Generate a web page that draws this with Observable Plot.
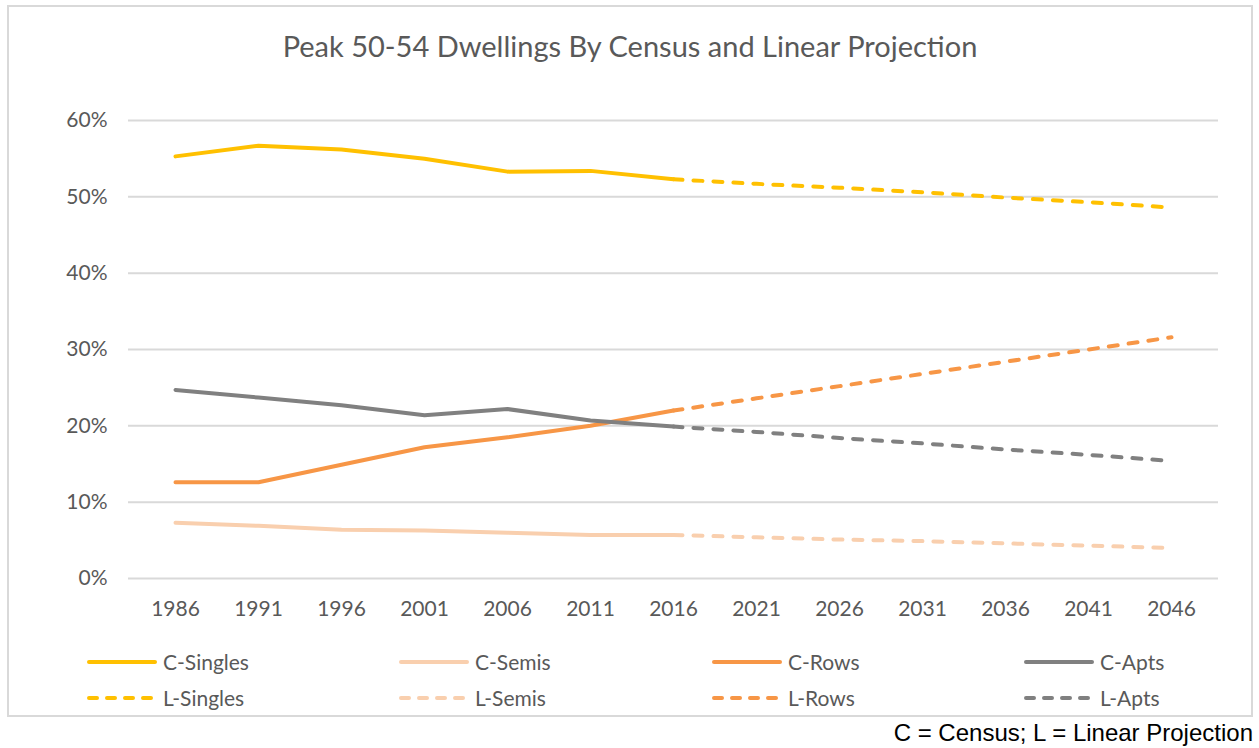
<!DOCTYPE html>
<html>
<head>
<meta charset="utf-8">
<script src="https://cdn.jsdelivr.net/npm/d3@7"></script>
<script src="https://cdn.jsdelivr.net/npm/@observablehq/plot@0.6"></script>
<style>
  body { margin: 0; background: #fff; }
  #wrap { position: relative; width: 1259px; height: 748px; overflow: hidden; font-family: Lato, sans-serif; }
  #frame { position: absolute; left: 7px; top: 5px; width: 1246px; height: 712px; border: 2px solid #d9d9d9; box-sizing: border-box; }
  #title { position: absolute; left: 7px; width: 1246px; top: 28px; text-align: center; font-size: 29px; color: #595959; }
  #chart { position: absolute; left: 0; top: 90px; }
  .leg { position: absolute; display: flex; align-items: center; font-size: 21px; color: #595959; }
  .leg svg { display: block; margin-right: 5px; }
  #caption { position: absolute; right: 6px; top: 719px; font-family: "Liberation Sans", Arial, sans-serif; font-size: 24px; color: #000; white-space: nowrap; }
</style>
</head>
<body>
<div id="wrap">
  <div id="frame"></div>
  <div id="title">Peak 50-54 Dwellings By Census and Linear Projection</div>
  <div id="chart"></div>
  <div id="legend"></div>
  <div id="caption">C = Census; L = Linear Projection</div>
</div>
<script>
// ---- data ----
const years = ["1986","1991","1996","2001","2006","2011","2016","2021","2026","2031","2036","2041","2046"];
const censusYears = ["1986","1991","1996","2001","2006","2011","2016"];
const projYears = ["2016","2021","2026","2031","2036","2041","2046"];
const yTicks = [0, 0.1, 0.2, 0.3, 0.4, 0.5, 0.6];

const cSingles = [55.3, 56.7, 56.2, 55.0, 53.3, 53.4, 52.3];
const cSemis   = [7.3, 6.9, 6.4, 6.3, 6.0, 5.7, 5.7];
const cRows    = [12.6, 12.6, 14.9, 17.2, 18.5, 20.0, 22.0];
const cApts    = [24.7, 23.7, 22.7, 21.4, 22.2, 20.7, 19.9];
const lSingles = [52.3, 51.7, 51.2, 50.6, 49.9, 49.3, 48.6];
const lSemis   = [5.7, 5.4, 5.1, 4.9, 4.6, 4.3, 4.0];
const lRows    = [22.0, 23.6, 25.2, 26.8, 28.4, 30.0, 31.6];
const lApts    = [19.9, 19.2, 18.4, 17.7, 16.9, 16.2, 15.4];

const seriesNames = ["C-Singles","C-Semis","C-Rows","C-Apts","L-Singles","L-Semis","L-Rows","L-Apts"];
const seriesColors = ["#FFC000","#F9CFAE","#F79646","#808080","#FFC000","#F9CFAE","#F79646","#808080"];

// ---- build table ----
const seriesDefs = [
  {name: "C-Singles", x: censusYears, v: cSingles},
  {name: "C-Semis",   x: censusYears, v: cSemis},
  {name: "C-Rows",    x: censusYears, v: cRows},
  {name: "C-Apts",    x: censusYears, v: cApts},
  {name: "L-Singles", x: projYears,   v: lSingles},
  {name: "L-Semis",   x: projYears,   v: lSemis},
  {name: "L-Rows",    x: projYears,   v: lRows},
  {name: "L-Apts",    x: projYears,   v: lApts}
];
const rows = [];
seriesDefs.forEach(s => s.v.forEach((val, i) => rows.push({name: s.name, year: s.x[i], value: val / 100})));

const colorOf = name => seriesColors[seriesNames.indexOf(name)];
const isProj = name => name.startsWith("L-");

const lineMarks = seriesNames.map(n => Plot.line(rows.filter(d => d.name === n), {
  x: "year", y: "value",
  stroke: colorOf(n), strokeWidth: 4,
  strokeLinecap: "round", strokeLinejoin: "round",
  strokeDasharray: isProj(n) ? "9,11" : null
}));

const chart = Plot.plot({
  width: 1259, height: 540,
  marginLeft: 128, marginRight: 41, marginTop: 30, marginBottom: 52,
  style: {fontFamily: "Lato, sans-serif", fontSize: "21px", color: "#595959", background: "transparent"},
  x: {type: "point", domain: years, padding: 0.5, label: null},
  y: {domain: [0, 0.6], label: null},
  marks: [
    Plot.gridY(yTicks, {stroke: "#d9d9d9", strokeOpacity: 1, strokeWidth: 2}),
    Plot.axisY(yTicks, {tickSize: 0, tickPadding: 21, tickFormat: d3.format(".0%"), fill: "#595959", fontSize: 21, label: null}),
    Plot.axisX({tickSize: 0, tickPadding: 23, fill: "#595959", fontSize: 21, label: null}),
    ...lineMarks
  ]
});
document.getElementById("chart").appendChild(chart);

// ---- legend ----
const legCols = [86, 398, 711, 1023];
const legRows = [649, 685];
const legend = document.getElementById("legend");
seriesNames.forEach((n, i) => {
  const col = i % 4, row = Math.floor(i / 4);
  const div = document.createElement("div");
  div.className = "leg";
  div.style.left = legCols[col] + "px";
  div.style.top = legRows[row] + "px";
  const ns = "http://www.w3.org/2000/svg";
  const svg = document.createElementNS(ns, "svg");
  svg.setAttribute("width", 72); svg.setAttribute("height", 10);
  const ln = document.createElementNS(ns, "line");
  ln.setAttribute("x1", 3); ln.setAttribute("x2", 69);
  ln.setAttribute("y1", 5); ln.setAttribute("y2", 5);
  ln.setAttribute("stroke", colorOf(n));
  ln.setAttribute("stroke-width", 4);
  ln.setAttribute("stroke-linecap", "round");
  if (isProj(n)) ln.setAttribute("stroke-dasharray", "8,10");
  svg.appendChild(ln);
  const span = document.createElement("span");
  span.textContent = n;
  div.appendChild(svg); div.appendChild(span);
  legend.appendChild(div);
});
</script>
</body>
</html>
